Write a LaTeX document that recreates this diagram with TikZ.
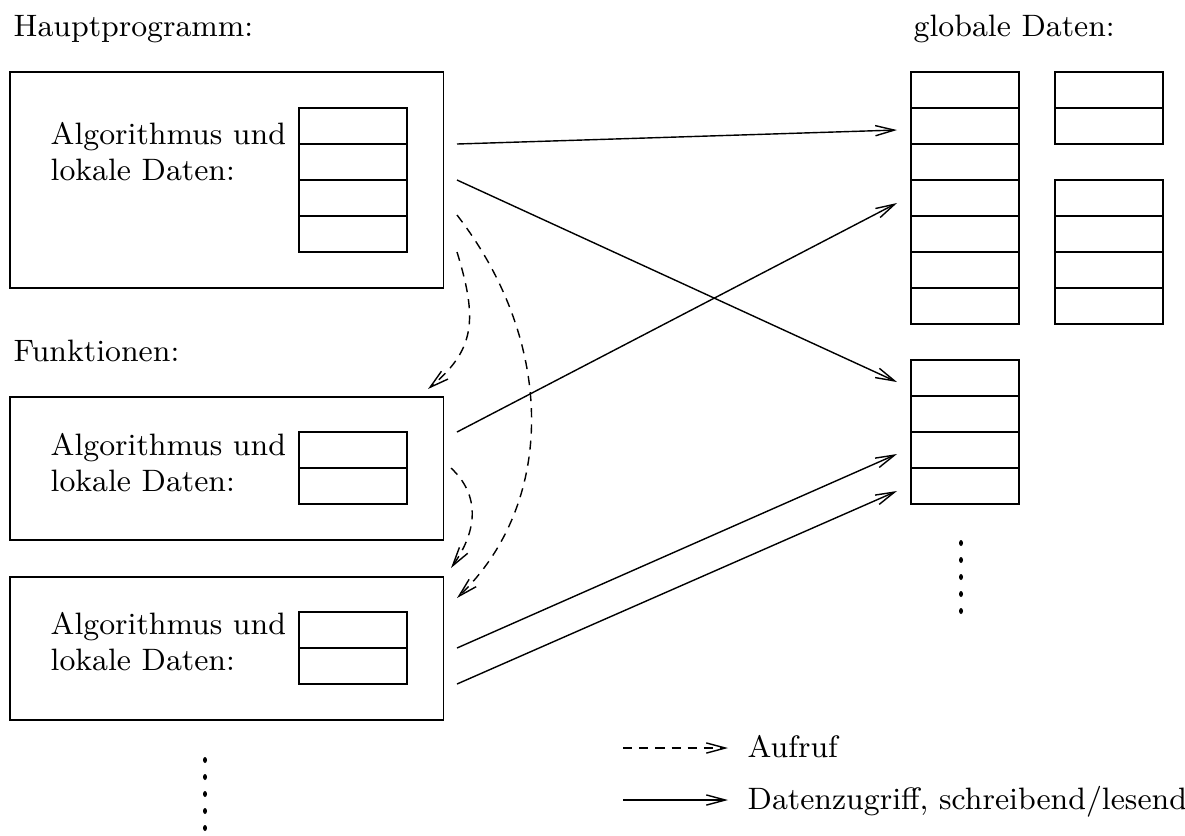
\documentclass[tikz,border=0pt]{standalone}
\usetikzlibrary{arrows.meta}
\newcommand{\stapel}[4]{\foreach \i in {1,...,#4} \node[zelle] (#1-\i) at (#2,{#3+36*(\i-1)}) {};}
\tikzset{
  zelle/.style={draw, minimum width=1.08cm, minimum height=0.36cm, inner sep=0pt, outer sep=0pt, anchor=north west},
  kasten/.style={draw, inner sep=0pt, outer sep=0pt, anchor=north west},
  pfeil/.style={-{Straight Barb[length=5.4pt,width=2.9pt]}},
  aufruf/.style={pfeil, dash pattern=on 2.6pt off 2pt},
  txt/.style={anchor=base west, inner sep=0pt},
  punkt/.style={fill=black}
}
\begin{document}
\begin{tikzpicture}[x=0.01cm,y=-0.01cm,every node/.style={font=\fontsize{8.8}{10.5}\selectfont}]
  \useasboundingbox (0,0) rectangle (1185,835);
  % Ueberschriften
  \node[txt] (th) at (13,36) {Hauptprogramm:};
  \node[txt] (tf) at (13,361) {Funktionen:};
  \node[txt] (tg) at (913,36) {globale Daten:};
  % Hauptprogramm und Funktionen
  \node[kasten, minimum width=4.33cm, minimum height=2.16cm] (haupt) at (10,72) {};
  \node[kasten, minimum width=4.33cm, minimum height=1.43cm] (fkt1) at (10,397) {};
  \node[kasten, minimum width=4.33cm, minimum height=1.43cm] (fkt2) at (10,577) {};
  \node[txt] (h1) at (50,144) {Algorithmus und};
  \node[txt] (h2) at (50,180) {lokale Daten:};
  \node[txt] (f11) at (50,455) {Algorithmus und};
  \node[txt] (f12) at (50,491) {lokale Daten:};
  \node[txt] (f21) at (50,634) {Algorithmus und};
  \node[txt] (f22) at (50,670) {lokale Daten:};
  \stapel{lh}{299}{108}{4}
  \stapel{lf1}{299}{432}{2}
  \stapel{lf2}{299}{612}{2}
  % globale Daten
  \stapel{g1}{911}{72}{7}
  \stapel{g2}{1055}{72}{2}
  \stapel{g3}{1055}{180}{4}
  \stapel{g4}{911}{360}{4}
  % Punkte
  \foreach \k in {0,...,4} {
    \fill[punkt] (205,{760+17*\k}) ellipse [x radius=2, y radius=3];
    \fill[punkt] (961,{543+17*\k}) ellipse [x radius=2, y radius=3];
  }
  % Anfangs- und Endpunkte
  \coordinate (a1) at (457,144);
  \coordinate (a2) at (457,180);
  \coordinate (a3) at (457,215);
  \coordinate (a4) at (457,252);
  \coordinate (b1) at (457,432);
  \coordinate (b2) at (451,468);
  \coordinate (c1) at (457,648);
  \coordinate (c2) at (457,684);
  \coordinate (z1) at (897,130);
  \coordinate (z2) at (897,382);
  \coordinate (z3) at (897,203);
  \coordinate (z4) at (897,454);
  \coordinate (z5) at (897,491);
  \coordinate (e1) at (428,389);
  \coordinate (e2) at (451,568);
  \coordinate (e3) at (457,598);
  % Datenzugriffe
  \draw[pfeil] (a1) -- (z1);
  \draw[pfeil] (a2) -- (z2);
  \draw[pfeil] (b1) -- (z3);
  \draw[pfeil] (c1) -- (z4);
  \draw[pfeil] (c2) -- (z5);
  % Aufrufe
  \draw[aufruf] (a4) .. controls (478,320) and (475,350) .. (e1);
  \draw[aufruf] (a3) .. controls (556,343) and (556,503) .. (e3);
  \draw[aufruf] (b2) .. controls (480,495) and (478,530) .. (e2);
  % Legende
  \coordinate (l1) at (623,748);
  \coordinate (l2) at (728,748);
  \coordinate (l3) at (623,800);
  \coordinate (l4) at (728,800);
  \draw[aufruf] (l1) -- (l2);
  \draw[pfeil] (l3) -- (l4);
  \node[txt] (la) at (747,757) {Aufruf};
  \node[txt] (ld) at (747,809) {Datenzugriff, schreibend/lesend};
\end{tikzpicture}
\end{document}
